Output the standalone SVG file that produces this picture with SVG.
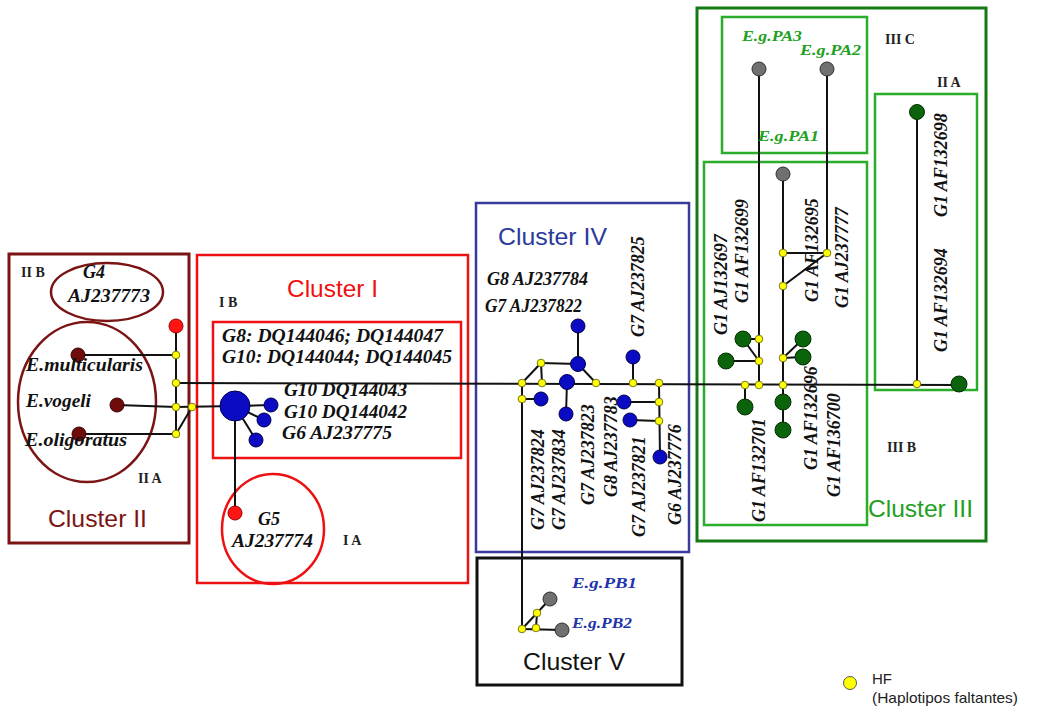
<svg xmlns="http://www.w3.org/2000/svg" width="1055" height="711" viewBox="0 0 1055 711">
<style>
.ln{stroke:#111;stroke-width:2;fill:none}
.y{fill:#ffff00;stroke:#77771a;stroke-width:1}
.b{fill:#0b0bc4;stroke:#00004d;stroke-width:1}
.dr{fill:#6e0b0b;stroke:#3a0000;stroke-width:1}
.r{fill:#ff1414;stroke:#990000;stroke-width:1}
.g{fill:#707070;stroke:#2e2e2e;stroke-width:1}
.gr{fill:#0b640b;stroke:#033003;stroke-width:1}
.lb{font-family:"Liberation Serif","Times New Roman",serif;font-style:italic;font-weight:bold;font-size:18px;fill:#111}
.sm{font-family:"Liberation Serif","Times New Roman",serif;font-style:italic;font-weight:bold;font-size:15px}
.rn{font-family:"Liberation Serif","Times New Roman",serif;font-size:14px;font-weight:bold;fill:#222}
.cl{font-family:"Liberation Sans",Arial,sans-serif;font-size:24px}
</style>
<rect width="1055" height="711" fill="#ffffff"/>
<g id="clusters" fill="none">
  <rect x="9" y="254" width="180" height="289" stroke="#7b1414" stroke-width="3"/>
  <ellipse cx="107" cy="292" rx="56" ry="29" stroke="#7b1414" stroke-width="2.5"/>
  <ellipse cx="87" cy="402" rx="69" ry="80" stroke="#7b1414" stroke-width="2.5"/>
  <rect x="197" y="255" width="271" height="328" stroke="#ee1111" stroke-width="2.5"/>
  <rect x="213" y="322" width="248" height="136" stroke="#ee1111" stroke-width="2.5"/>
  <ellipse cx="273" cy="529" rx="51" ry="55" stroke="#ee1111" stroke-width="2.5"/>
  <rect x="476" y="203" width="213" height="349" stroke="#3a3a9c" stroke-width="2.5"/>
  <rect x="477" y="558" width="205" height="127" stroke="#111" stroke-width="3"/>
  <rect x="697" y="8" width="289" height="533" stroke="#147a14" stroke-width="3"/>
  <rect x="722" y="17" width="145" height="136" stroke="#2aad2a" stroke-width="2.5"/>
  <rect x="704" y="162" width="163" height="363" stroke="#2aad2a" stroke-width="2.5"/>
  <rect x="875" y="94" width="102" height="296" stroke="#2aad2a" stroke-width="2.5"/>
</g>
<g id="connectors" class="ln">
  <line x1="176" y1="383" x2="960" y2="385"/>
  <line x1="176" y1="326" x2="176" y2="434"/>
  <line x1="78" y1="355" x2="176" y2="355"/>
  <line x1="117" y1="405" x2="176" y2="407"/>
  <line x1="79" y1="434" x2="176" y2="434"/>
  <line x1="176" y1="407" x2="235" y2="406"/>
  <line x1="176" y1="434" x2="192" y2="407"/>
  <line x1="235" y1="406" x2="271" y2="405"/>
  <line x1="235" y1="406" x2="264" y2="420"/>
  <line x1="235" y1="406" x2="256" y2="440"/>
  <line x1="235" y1="406" x2="235" y2="513"/>
  <line x1="522" y1="383" x2="541" y2="363"/>
  <line x1="541" y1="363" x2="578" y2="364"/>
  <line x1="541" y1="363" x2="542" y2="383"/>
  <line x1="578" y1="326" x2="578" y2="364"/>
  <line x1="578" y1="364" x2="596" y2="383"/>
  <line x1="522" y1="383" x2="522" y2="629"/>
  <line x1="522" y1="399" x2="541" y2="399"/>
  <line x1="567" y1="382" x2="566" y2="414"/>
  <line x1="633" y1="357" x2="633" y2="383"/>
  <line x1="659" y1="383" x2="660" y2="457"/>
  <line x1="624" y1="402" x2="659" y2="402"/>
  <line x1="630" y1="420" x2="659" y2="421"/>
  <line x1="522" y1="629" x2="537" y2="613"/>
  <line x1="537" y1="613" x2="550" y2="599"/>
  <line x1="537" y1="613" x2="536" y2="628"/>
  <line x1="522" y1="629" x2="562" y2="630"/>
  <line x1="759" y1="69" x2="759" y2="385"/>
  <line x1="827" y1="69" x2="827" y2="253"/>
  <line x1="783" y1="174" x2="783" y2="430"/>
  <line x1="783" y1="253" x2="827" y2="253"/>
  <line x1="783" y1="286" x2="827" y2="253"/>
  <line x1="743" y1="339" x2="759" y2="339"/>
  <line x1="743" y1="339" x2="759" y2="361"/>
  <line x1="726" y1="361" x2="759" y2="361"/>
  <line x1="745" y1="385" x2="745" y2="407"/>
  <line x1="783" y1="358" x2="803" y2="339"/>
  <line x1="783" y1="358" x2="803" y2="357"/>
  <line x1="917" y1="112" x2="917" y2="384"/>
</g>
<g id="cluster2-nodes">
  <g id="n-red-top"><circle class="r" cx="176" cy="326" r="7"/></g>
  <g id="n-multicularis"><circle class="dr" cx="78" cy="355" r="7"/></g>
  <g id="n-vogeli"><circle class="dr" cx="117" cy="405" r="7"/></g>
  <g id="n-oligoratus"><circle class="dr" cx="79" cy="434" r="7"/></g>
  <g id="hf-c2a"><circle class="y" cx="176" cy="355" r="3.8"/></g>
  <g id="hf-c2b"><circle class="y" cx="176" cy="383" r="3.8"/></g>
  <g id="hf-c2c"><circle class="y" cx="176" cy="407" r="3.8"/></g>
  <g id="hf-c2d"><circle class="y" cx="176" cy="434" r="3.8"/></g>
  <g id="hf-c2e"><circle class="y" cx="192" cy="407" r="3.8"/></g>
</g>
<g id="cluster1-nodes">
  <g id="n-g10-big"><circle class="b" cx="235" cy="406" r="15"/></g>
  <g id="n-g10-43"><circle class="b" cx="271" cy="405" r="7"/></g>
  <g id="n-g10-42"><circle class="b" cx="264" cy="420" r="7"/></g>
  <g id="n-g6-75"><circle class="b" cx="256" cy="440" r="7"/></g>
  <g id="n-g5"><circle class="r" cx="235" cy="513" r="7"/></g>
</g>
<g id="cluster4-nodes">
  <g id="n-c4-1"><circle class="b" cx="578" cy="326" r="7"/></g>
  <g id="n-c4-2"><circle class="b" cx="578" cy="364" r="7.5"/></g>
  <g id="n-c4-3"><circle class="b" cx="567" cy="382" r="7.5"/></g>
  <g id="n-c4-4"><circle class="b" cx="541" cy="399" r="7"/></g>
  <g id="n-c4-5"><circle class="b" cx="566" cy="414" r="7"/></g>
  <g id="n-c4-6"><circle class="b" cx="633" cy="357" r="7"/></g>
  <g id="n-c4-7"><circle class="b" cx="624" cy="402" r="7"/></g>
  <g id="n-c4-8"><circle class="b" cx="630" cy="420" r="7"/></g>
  <g id="n-c4-9"><circle class="b" cx="660" cy="457" r="7"/></g>
  <g id="hf-c4a"><circle class="y" cx="541" cy="363" r="3.8"/></g>
  <g id="hf-c4b"><circle class="y" cx="522" cy="383" r="3.8"/></g>
  <g id="hf-c4c"><circle class="y" cx="542" cy="383" r="3.8"/></g>
  <g id="hf-c4d"><circle class="y" cx="596" cy="383" r="3.8"/></g>
  <g id="hf-c4e"><circle class="y" cx="522" cy="399" r="3.8"/></g>
  <g id="hf-c4f"><circle class="y" cx="633" cy="383" r="3.8"/></g>
  <g id="hf-c4g"><circle class="y" cx="659" cy="383" r="3.8"/></g>
  <g id="hf-c4h"><circle class="y" cx="659" cy="402" r="3.8"/></g>
  <g id="hf-c4i"><circle class="y" cx="659" cy="421" r="3.8"/></g>
</g>
<g id="cluster5-nodes">
  <g id="n-pb1"><circle class="g" cx="550" cy="599" r="7"/></g>
  <g id="n-pb2"><circle class="g" cx="562" cy="630" r="7"/></g>
  <g id="hf-c5a"><circle class="y" cx="537" cy="613" r="3.8"/></g>
  <g id="hf-c5b"><circle class="y" cx="522" cy="629" r="3.8"/></g>
  <g id="hf-c5c"><circle class="y" cx="536" cy="628" r="3.8"/></g>
</g>
<g id="cluster3-nodes">
  <g id="n-pa3"><circle class="g" cx="759" cy="69" r="7"/></g>
  <g id="n-pa2"><circle class="g" cx="827" cy="69" r="7"/></g>
  <g id="n-pa1"><circle class="g" cx="783" cy="174" r="7"/></g>
  <g id="n-c3-1"><circle class="gr" cx="743" cy="339" r="8"/></g>
  <g id="n-c3-2"><circle class="gr" cx="726" cy="361" r="8"/></g>
  <g id="n-c3-3"><circle class="gr" cx="745" cy="407" r="8"/></g>
  <g id="n-c3-4"><circle class="gr" cx="803" cy="339" r="8"/></g>
  <g id="n-c3-5"><circle class="gr" cx="803" cy="357" r="8"/></g>
  <g id="n-c3-6"><circle class="gr" cx="783" cy="402" r="8"/></g>
  <g id="n-c3-7"><circle class="gr" cx="783" cy="430" r="8"/></g>
  <g id="n-c3-8"><circle class="gr" cx="917" cy="112" r="7.5"/></g>
  <g id="n-c3-9"><circle class="gr" cx="959" cy="384" r="8"/></g>
  <g id="hf-c3a"><circle class="y" cx="783" cy="253" r="3.8"/></g>
  <g id="hf-c3b"><circle class="y" cx="827" cy="253" r="3.8"/></g>
  <g id="hf-c3c"><circle class="y" cx="783" cy="286" r="3.8"/></g>
  <g id="hf-c3d"><circle class="y" cx="759" cy="339" r="3.8"/></g>
  <g id="hf-c3e"><circle class="y" cx="759" cy="361" r="3.8"/></g>
  <g id="hf-c3f"><circle class="y" cx="745" cy="385" r="3.8"/></g>
  <g id="hf-c3g"><circle class="y" cx="759" cy="385" r="3.8"/></g>
  <g id="hf-c3h"><circle class="y" cx="783" cy="358" r="3.8"/></g>
  <g id="hf-c3i"><circle class="y" cx="783" cy="385" r="3.8"/></g>
  <g id="hf-c3j"><circle class="y" cx="917" cy="384" r="3.8"/></g>
</g>
<g id="cluster-titles" class="cl">
  <text x="48" y="527" fill="#7b1414" textLength="99" lengthAdjust="spacingAndGlyphs">Cluster II</text>
  <text x="287" y="297" fill="#ee1111" textLength="91" lengthAdjust="spacingAndGlyphs">Cluster I</text>
  <text x="498" y="245" fill="#2b3b9b" textLength="109" lengthAdjust="spacingAndGlyphs">Cluster IV</text>
  <text x="523" y="670" fill="#111" textLength="102" lengthAdjust="spacingAndGlyphs">Cluster V</text>
  <text x="868" y="517" fill="#22a022" textLength="105" lengthAdjust="spacingAndGlyphs">Cluster III</text>
</g>
<g id="subgroup-labels" class="rn">
  <text x="21" y="277">II B</text>
  <text x="138" y="483">II A</text>
  <text x="219" y="307">I B</text>
  <text x="343" y="545">I A</text>
  <text x="885" y="44">III C</text>
  <text x="937" y="87">II A</text>
  <text x="887" y="452">III B</text>
</g>
<g id="labels" class="lb">
  <text x="83" y="278">G4</text>
  <text x="68" y="302" textLength="82" lengthAdjust="spacingAndGlyphs">AJ237773</text>
  <text x="26" y="371" textLength="117" lengthAdjust="spacingAndGlyphs">E.multicularis</text>
  <text x="26" y="407" textLength="65" lengthAdjust="spacingAndGlyphs">E.vogeli</text>
  <text x="25" y="446" textLength="102" lengthAdjust="spacingAndGlyphs">E.oligoratus</text>
  <text x="222" y="342" textLength="221" lengthAdjust="spacingAndGlyphs">G8: DQ144046; DQ144047</text>
  <text x="222" y="363" textLength="230" lengthAdjust="spacingAndGlyphs">G10: DQ144044; DQ144045</text>
  <text x="284" y="396" textLength="123" lengthAdjust="spacingAndGlyphs">G10 DQ144043</text>
  <text x="284" y="418" textLength="123" lengthAdjust="spacingAndGlyphs">G10 DQ144042</text>
  <text x="282" y="439" textLength="110" lengthAdjust="spacingAndGlyphs">G6 AJ237775</text>
  <text x="258" y="525">G5</text>
  <text x="232" y="547" textLength="81" lengthAdjust="spacingAndGlyphs">AJ237774</text>
  <text x="487" y="285" textLength="101" lengthAdjust="spacingAndGlyphs">G8 AJ237784</text>
  <text x="485" y="312" textLength="97" lengthAdjust="spacingAndGlyphs">G7 AJ237822</text>
  <text transform="translate(644,337) rotate(-90)">G7 AJ237825</text>
  <text transform="translate(544,530) rotate(-90)">G7 AJ237824</text>
  <text transform="translate(565,530) rotate(-90)">G7 AJ237834</text>
  <text transform="translate(594,505) rotate(-90)">G7 AJ237823</text>
  <text transform="translate(617,497) rotate(-90)">G8 AJ237783</text>
  <text transform="translate(645,537) rotate(-90)">G7 AJ237821</text>
  <text transform="translate(681,525) rotate(-90)">G6 AJ237776</text>
  <text transform="translate(727,335) rotate(-90)">G1 AJ132697</text>
  <text transform="translate(748,303) rotate(-90)">G1 AF132699</text>
  <text transform="translate(818,302) rotate(-90)">G1 AF132695</text>
  <text transform="translate(848,308) rotate(-90)">G1 AJ237777</text>
  <text transform="translate(765,522) rotate(-90)">G1 AF132701</text>
  <text transform="translate(817,470) rotate(-90)">G1 AF132696</text>
  <text transform="translate(840,497) rotate(-90)">G1 AF136700</text>
  <text transform="translate(947,217) rotate(-90)">G1 AF132698</text>
  <text transform="translate(947,352) rotate(-90)">G1 AF132694</text>
</g>
<g id="strain-labels" class="sm">
  <text x="572" y="588" fill="#2233aa" textLength="65" lengthAdjust="spacingAndGlyphs">E.g.PB1</text>
  <text x="572" y="628" fill="#2233aa" textLength="60" lengthAdjust="spacingAndGlyphs">E.g.PB2</text>
  <text x="742" y="41" fill="#22a022" textLength="60" lengthAdjust="spacingAndGlyphs">E.g.PA3</text>
  <text x="800" y="55" fill="#22a022" textLength="61" lengthAdjust="spacingAndGlyphs">E.g.PA2</text>
  <text x="758" y="141" fill="#22a022" textLength="61" lengthAdjust="spacingAndGlyphs">E.g.PA1</text>
</g>
<g id="legend">
  <circle cx="850" cy="683" r="6.5" fill="#ffff00" stroke="#555" stroke-width="1"/>
  <text x="872" y="684" font-family="Liberation Sans, Arial, sans-serif" font-size="15" fill="#222">HF</text>
  <text x="872" y="703" font-family="Liberation Sans, Arial, sans-serif" font-size="15" fill="#222" textLength="146" lengthAdjust="spacingAndGlyphs">(Haplotipos faltantes)</text>
</g>
</svg>
